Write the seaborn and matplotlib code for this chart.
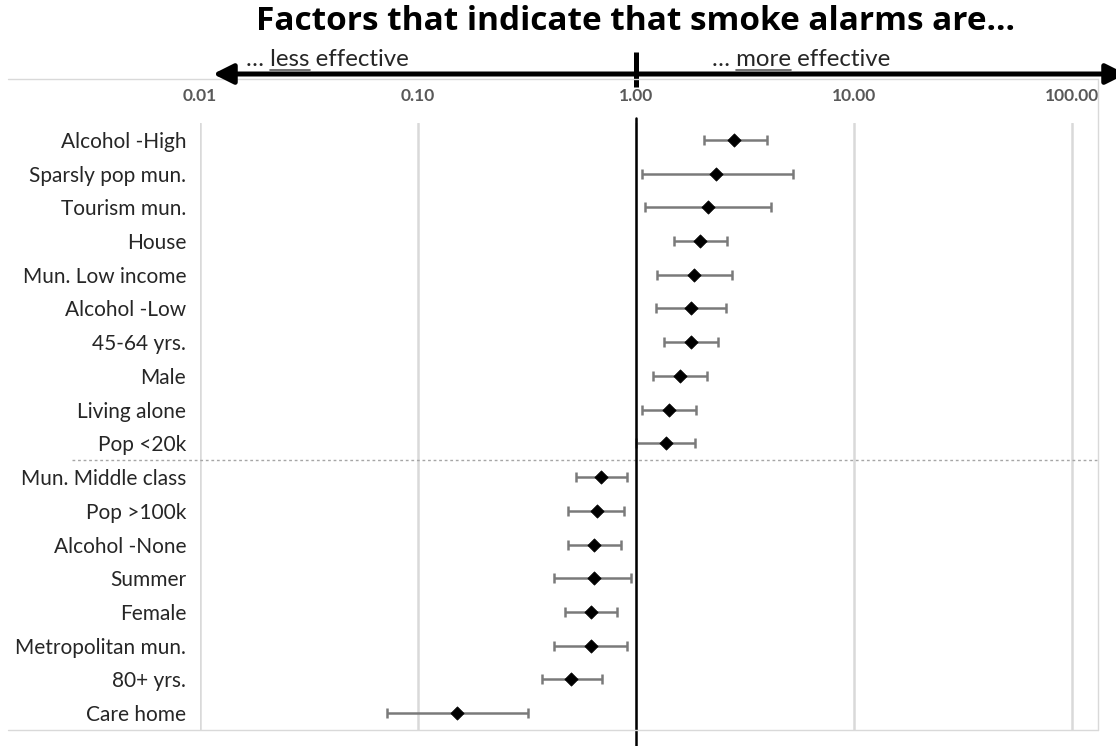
import matplotlib
matplotlib.use("Agg")
import matplotlib.pyplot as plt
import matplotlib.transforms as mtransforms
from matplotlib.lines import Line2D
from matplotlib.patches import FancyArrowPatch
from matplotlib.ticker import NullLocator
import pandas as pd
import seaborn as sns

# Odds ratios with 95% confidence intervals, top to bottom
factors = [
    "Alcohol -High", "Sparsly pop mun.", "Tourism mun.", "House",
    "Mun. Low income", "Alcohol -Low", "45-64 yrs.", "Male",
    "Living alone", "Pop <20k", "Mun. Middle class", "Pop >100k",
    "Alcohol -None", "Summer", "Female", "Metropolitan mun.",
    "80+ yrs.", "Care home",
]
odds_ratio = [2.83, 2.34, 2.15, 1.97, 1.84, 1.79, 1.79, 1.60, 1.42, 1.38,
              0.69, 0.66, 0.64, 0.64, 0.62, 0.62, 0.505, 0.151]
ci_low = [2.04, 1.07, 1.10, 1.50, 1.25, 1.24, 1.34, 1.20, 1.06, 1.00,
          0.53, 0.49, 0.49, 0.42, 0.47, 0.42, 0.37, 0.072]
ci_high = [3.97, 5.24, 4.17, 2.61, 2.75, 2.58, 2.38, 2.11, 1.89, 1.87,
           0.91, 0.885, 0.85, 0.95, 0.82, 0.91, 0.70, 0.32]
tick_values = [0.01, 0.1, 1, 10, 100]
tick_labels = ["0.01", "0.10", "1.00", "10.00", "100.00"]
n_positive = 10  # factors above the dotted divider

sns.set_style("white")
plt.rcParams["font.family"] = ["Lato", "DejaVu Sans"]

W, H = 1116, 746
fig = plt.figure(figsize=(W / 100, H / 100), dpi=100)


def fx(px):
    return px / W


def fy(py):
    return 1 - py / H


ax = fig.add_axes([fx(200), fy(730), fx(1098) - fx(200), fy(123) - fy(730)])
ax.set_xscale("log")

df = pd.DataFrame({"factor": factors, "odds": odds_ratio,
                   "low": ci_low, "high": ci_high})

ax.errorbar(df["odds"], df["factor"],
            xerr=[df["odds"] - df["low"], df["high"] - df["odds"]],
            fmt="none", ecolor="#7a7a7a", elinewidth=1.8,
            capsize=3.6, capthick=1.8, zorder=3)
sns.scatterplot(data=df, x="odds", y="factor", marker="D", s=46,
                color="black", edgecolor="black", linewidth=0.5,
                ax=ax, zorder=5, legend=False)

ax.set_xlim(0.01, 131.6)
ax.set_ylim(len(factors) - 0.5, -0.5)
ax.set_xticks(tick_values)
ax.set_xticklabels(tick_labels)
ax.xaxis.set_minor_locator(NullLocator())
ax.xaxis.tick_top()
ax.grid(axis="x", color="#d9d9d9", linewidth=1.8)
ax.grid(axis="y", visible=False)
ax.tick_params(axis="x", length=0, pad=14, labelsize=12.5,
               labelcolor="#595959")
for lbl in ax.get_xticklabels():
    lbl.set_fontweight("bold")
ax.tick_params(axis="y", length=0, pad=10, labelsize=15,
               labelcolor="#262626")
ax.set_xlabel("")
ax.set_ylabel("")
for s in ax.spines.values():
    s.set_visible(False)

# reference line at odds ratio 1, running past the plot edges
xfig = mtransforms.blended_transform_factory(ax.transData, fig.transFigure)
ax.plot([1, 1], [fy(118), 0], transform=xfig, color="black",
        linewidth=1.8, clip_on=False, zorder=6)
# short tick on the direction arrow
ax.plot([1, 1], [fy(52), fy(87)], transform=xfig, color="black",
        linewidth=3.6, solid_capstyle="butt", clip_on=False, zorder=6)

# dotted divider between factors above and below 1
yfig = mtransforms.blended_transform_factory(fig.transFigure, ax.transData)
ax.plot([fx(72), fx(1098)], [n_positive - 0.5] * 2, transform=yfig,
        color="#a6a6a6", linewidth=1.0, linestyle=(0, (2, 2)),
        clip_on=False, zorder=2)

# light frame around the chart area
frame_kw = dict(color="#d9d9d9", linewidth=1.0, transform=fig.transFigure)
fig.add_artist(Line2D([fx(8), fx(1098)], [fy(730)] * 2, **frame_kw))
fig.add_artist(Line2D([fx(8), fx(1098)], [fy(79)] * 2, **frame_kw))
fig.add_artist(Line2D([fx(1098)] * 2, [fy(79), fy(730)], **frame_kw))

# double-headed direction arrow
arrow = FancyArrowPatch((fx(213), fy(74)), (fx(1126), fy(74)),
                        transform=fig.transFigure,
                        arrowstyle="<|-|>,head_length=12,head_width=6",
                        mutation_scale=1, linewidth=3.6, color="black",
                        shrinkA=0, shrinkB=0, zorder=10)
fig.add_artist(arrow)

fig.text(fx(636), fy(21), "Factors that indicate that smoke alarms are…",
         ha="center", va="center", fontsize=24, fontweight="bold",
         color="black", family=["Open Sans", "DejaVu Sans"])

renderer = fig.canvas.get_renderer()


def underlined_label(x_px, prefix, word, suffix):
    kw = dict(fontsize=17.3, color="#262626", va="baseline", ha="left")
    t = fig.text(fx(x_px), fy(66), prefix + word + suffix, **kw)
    p = fig.text(0, 0, prefix, **kw)
    pw = fig.text(0, 0, prefix + word, **kw)
    x0 = p.get_window_extent(renderer).width
    x1 = pw.get_window_extent(renderer).width
    p.remove()
    pw.remove()
    fig.add_artist(Line2D([fx(x_px + x0), fx(x_px + x1)], [fy(69.5)] * 2,
                          color="#595959", linewidth=1.2,
                          transform=fig.transFigure))
    return t


underlined_label(246, "… ", "less", " effective")
underlined_label(712, "… ", "more", " effective")

fig.savefig("out.png", dpi=100)
